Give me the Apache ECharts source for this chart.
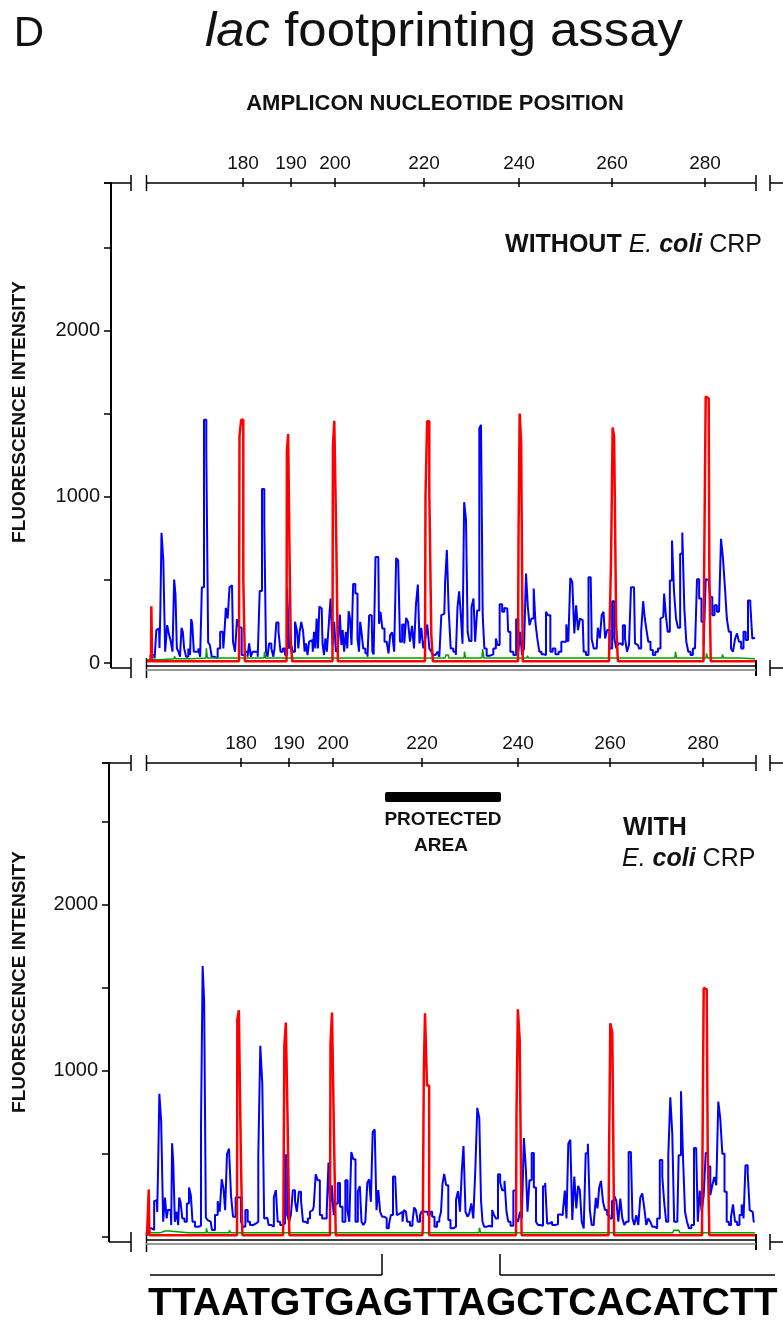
<!DOCTYPE html>
<html>
<head>
<meta charset="UTF-8">
<title>lac footprinting assay</title>
<style>
  html, body { margin: 0; padding: 0; background: #fff; }
  #chart { width: 783px; height: 1324px; }
</style>
<script src="https://cdn.jsdelivr.net/npm/echarts@6/dist/echarts.min.js"></script>
</head>
<body>
<div id="chart"></div>
<script>
// nucleotide labels of the top axes and where they sit on the scan axis (0..608)
var ntLabels = [180, 190, 200, 220, 240, 260, 280];
var topTickScan = [96, 144, 188, 277, 372, 465, 558];
var botTickScan = [94, 142, 186, 275, 371, 463, 556];

// WITHOUT E. coli CRP: [scan, fluorescence]
var topBlue = [[0,15],[7,48],[8.3,28],[10.3,198],[12,208],[13,90],[13.7,316],[15.3,784],[17.3,618],[19,68],[21.3,228],[23,168],[24.7,128],[26.3,68],[28,502],[29,412],[30.7,88],[32.3,68],[33.7,38],[35.3,212],[36.3,188],[38,88],[40.3,38],[42.3,88],[43.7,48],[44.7,264],[45.7,238],[48,68],[50.3,68],[52.3,88],[54,38],[55.7,456],[58.3,1464],[60.3,1272],[62,124],[63.7,108],[65.7,38],[69,28],[72.3,88],[74,188],[75.7,188],[77,88],[78,188],[79.7,332],[81.7,268],[83.3,456],[85,468],[87,128],[89,68],[91,264],[93,214],[96.3,48],[99.7,68],[101.3,38],[103,118],[104.7,38],[106.3,68],[109.7,68],[111.7,38],[113.7,434],[116.3,1048],[118.3,842],[119.7,68],[121.3,38],[123,118],[125.7,88],[127,38],[128,88],[130.7,244],[132.3,188],[134.7,68],[137,88],[139,48],[141.3,448],[143,88],[144.7,118],[147,68],[149,248],[150.7,198],[152,88],[153.3,188],[155.3,248],[157,188],[158.3,68],[159.7,118],[161.3,48],[163,128],[165.3,138],[166.3,68],[167.7,188],[169,88],[170.3,268],[171.7,88],[173,340],[174.7,328],[176.3,118],[177.7,48],[179,148],[180.7,68],[182.3,208],[184.7,388],[186.3,108],[188,248],[189.7,68],[192,88],[193.7,292],[195,108],[196.3,198],[198,68],[199.7,188],[201,88],[202.3,312],[203.7,268],[205.3,108],[207,476],[209.7,418],[211.3,148],[212.7,68],[213.7,248],[215.3,188],[217,88],[219.7,58],[221.3,38],[223,288],[224.7,288],[226,68],[227.3,52],[229.7,638],[231.3,638],[232.7,236],[234.3,308],[236.3,208],[238.7,128],[240.7,118],[242.3,58],[244,168],[246.3,184],[248,68],[250.3,632],[252,618],[254,128],[256.3,232],[258.3,118],[260,272],[262,248],[264,128],[266,224],[268,88],[270,356],[271.7,472],[273.3,118],[275.3,212],[277.3,88],[279.3,148],[281.3,232],[283.3,88],[285.3,68],[287.3,48],[289.7,38],[291.3,68],[293.3,38],[295.3,288],[297.3,296],[299,492],[300.7,680],[302.7,316],[304.7,88],[308,68],[309.7,48],[311.3,336],[313,432],[314.7,288],[316.3,116],[318,968],[320,864],[321.3,188],[323.3,132],[325.7,338],[327.3,388],[329,128],[331.3,316],[333.3,1412],[334.7,1434],[336.7,288],[338,88],[341.3,44],[344.7,52],[348,88],[349.7,148],[351.3,108],[354,354],[356.3,308],[358.3,332],[360.3,328],[362,188],[364.7,68],[368,48],[370.3,264],[372.3,68],[374,188],[376,48],[378,88],[380,538],[381.7,338],[383.3,228],[385.7,268],[387.7,448],[389.3,238],[391.3,148],[393.3,68],[395.7,52],[398,48],[400,308],[402,288],[404.7,68],[406.5,88],[410.3,52],[413,68],[415.7,128],[418.3,128],[420.3,232],[422.3,128],[424.3,512],[426.3,488],[428.3,178],[430,348],[432,198],[434,268],[435.7,258],[437.7,68],[440.3,48],[442.7,516],[443.7,516],[445.7,144],[447.7,88],[449.7,88],[452,212],[453.7,148],[455.7,288],[457.3,308],[459,148],[461.3,198],[464,88],[466.3,372],[468.3,148],[470.3,88],[472.3,118],[474.7,108],[477,228],[479,148],[481,68],[483,108],[485,456],[487,456],[489,118],[491,108],[493,88],[495.3,192],[497,372],[498.7,268],[500.3,198],[502.3,128],[504.7,78],[507,48],[509.7,68],[512.3,88],[514.7,268],[516.3,278],[518,418],[519.7,288],[521.7,188],[524,496],[526,738],[528,432],[530,268],[532,212],[534.3,658],[536.3,786],[538.3,332],[540.3,128],[542.3,68],[544.7,48],[547,88],[549,98],[551,504],[553.3,388],[555.7,248],[557.7,108],[559.7,504],[561.7,500],[564.3,398],[566.3,288],[568.7,348],[571,308],[573,316],[575,748],[577,628],[579,448],[580.7,268],[583,188],[585,88],[587,68],[589,144],[591,178],[593,128],[595.3,88],[597.7,188],[599.7,138],[602.3,376],[604.3,356],[606.3,148],[608,152]];
var topRed = [[0,10],[4,10],[4.7,342],[5.5,10],[92,10],[93,1364],[95.3,1464],[97.3,502],[98.5,10],[139.5,10],[140.3,1272],[142,1378],[143,662],[144.7,108],[146,10],[185.5,10],[186.3,1302],[188.3,1458],[190.3,722],[191.5,10],[278,10],[279,1002],[281.3,1456],[283.3,1028],[285.3,168],[286.5,10],[371,10],[372,748],[373.3,1502],[375,1324],[376.5,10],[462,10],[463,200],[465,598],[466.3,1418],[468,1358],[470.3,232],[471.5,10],[556.5,10],[557.7,518],[559.7,1604],[561.7,1594],[563,538],[564.5,10],[608,10]];
var topGreen = [[0,20],[27,25],[28,40],[29,25],[59,30],[59.7,88],[61,30],[117,30],[118,68],[119,30],[298,30],[300,48],[303,30],[317,30],[318,68],[319,30],[335,30],[336.3,84],[337.5,30],[380,30],[381,44],[382,30],[445,30],[446,38],[447,30],[528,30],[529,68],[530,30],[559,30],[560,58],[561,30],[575,30],[576,52],[577,30],[608,25]];

// WITH E. coli CRP
var botBlue = [[0,15],[4.7,52],[6.3,42],[8,216],[9.7,222],[10.7,150],[11.7,448],[13,862],[15.3,698],[17,92],[19,238],[20.3,112],[21.3,162],[23.7,162],[24.7,72],[25.5,564],[27,452],[28.7,92],[30.7,152],[31.7,72],[32.7,238],[34.3,212],[36.3,112],[38.7,92],[41,202],[43,298],[44.7,252],[46.3,92],[49.7,62],[53,68],[55,668],[56.3,1632],[58,1416],[59.7,116],[61.7,102],[63.7,92],[66.3,42],[69.7,132],[71.7,216],[73.7,152],[75.7,348],[77.3,292],[79,162],[81,500],[83,532],[85,252],[87,122],[90.3,238],[93,238],[95,92],[97,62],[99.7,162],[101.7,92],[104.3,72],[108,82],[110.3,92],[112.3,492],[114.3,1152],[116.3,922],[118,112],[120.3,116],[123,72],[125.7,62],[128,238],[129.7,282],[131.7,92],[134.7,72],[137,82],[139,492],[141.3,132],[143,92],[144.7,132],[147,282],[149,216],[150.7,152],[153,272],[155,222],[157,92],[159.7,82],[162,112],[164,152],[165.7,162],[167.7,182],[169.7,378],[171.7,342],[174,132],[176.3,112],[178.7,112],[180.7,152],[182.3,448],[184,172],[185.7,312],[187.7,132],[189.7,202],[192,326],[194,182],[197,92],[199.7,342],[201.3,162],[203.3,92],[205.3,512],[207.3,468],[209.7,92],[212,276],[213.7,306],[215.3,92],[217.3,72],[219.3,92],[221.3,326],[223,348],[224.7,212],[226.7,632],[228.7,648],[230.3,162],[232.3,282],[234,152],[236.3,122],[238.7,112],[240.7,52],[243,72],[244.7,132],[247.3,364],[249,356],[250.7,132],[253,142],[254.7,152],[256.3,92],[257.3,162],[259,152],[261.3,92],[264.7,68],[266.3,92],[268,178],[269.7,162],[272,92],[274,132],[275.7,156],[278,152],[279.7,152],[282,132],[284,152],[286.3,122],[288.7,62],[291.3,92],[293.3,112],[294.7,152],[296.3,320],[298,380],[300.3,312],[302.3,102],[304.7,52],[308,62],[310,224],[312,276],[314,152],[315.7,402],[317.3,548],[319.7,152],[321.3,122],[323.3,142],[325.3,202],[327.3,112],[329.3,402],[331.3,778],[333.3,716],[334.7,222],[336.3,92],[338,62],[341.3,68],[344,62],[346.3,162],[348,132],[349.7,112],[352.3,378],[354,328],[356.3,282],[358.7,338],[360.3,152],[362.3,92],[364.7,68],[368,280],[370,112],[372,92],[374,152],[375.7,112],[378,596],[379.7,412],[381.3,152],[383.7,342],[385.7,506],[388,298],[390,92],[392,72],[394.7,68],[397.3,306],[399,326],[401.3,82],[404,92],[406.3,72],[409.7,76],[412.3,136],[414.7,132],[417,152],[418.7,280],[420.3,112],[422.3,562],[424.3,586],[426.3,102],[428.3,364],[430.3,172],[432,308],[433.7,282],[435.7,92],[437.7,52],[439.7,504],[442,562],[443.7,162],[445.7,72],[448,92],[449.7,236],[451.3,172],[453,296],[455,338],[457,212],[459,162],[461.3,132],[463.7,112],[466.3,218],[468.3,248],[470.3,218],[472.3,92],[474.3,232],[476.3,112],[478.3,72],[480.3,92],[483,512],[484.7,508],[486.3,112],[488.3,72],[490.3,132],[492.3,72],[494.3,238],[496.3,262],[498.3,172],[500.3,72],[502.3,112],[504.3,92],[506.3,62],[509,52],[511.3,112],[514.3,464],[516.3,364],[518,212],[520.3,92],[522.3,492],[524.3,842],[526.3,618],[528,92],[530.3,92],[533,492],[535,878],[537,482],[539,152],[541,92],[543,52],[545.7,72],[548.3,536],[550,532],[551.7,92],[553.7,280],[555.7,152],[557.7,252],[559.7,506],[562.3,424],[564.3,252],[566.3,312],[568.3,362],[570.3,312],[572.3,816],[574.3,712],[576.3,502],[578.7,272],[580.7,92],[583,72],[585,122],[587,196],[589,92],[591.3,72],[593.7,132],[595.7,196],[597.3,112],[599.7,432],[601.7,388],[603.7,162],[605.7,152],[607.7,92]];
var botRed = [[0,10],[1.5,10],[2,286],[2.7,10],[90,10],[90.7,1312],[93,1366],[94.7,492],[96,10],[136,10],[136.7,92],[138,1152],[139.7,1292],[141.7,656],[143,10],[183,10],[184,1162],[186,1352],[188,596],[189.5,10],[275.3,10],[276.3,52],[277.3,988],[278.7,1348],[281.3,912],[283,10],[369,10],[370,736],[371.7,1372],[373.7,1188],[375.5,10],[461.5,10],[462.3,386],[464.3,1288],[466.3,1232],[468,10],[555,10],[555.7,386],[557.7,1500],[559.7,1492],[561.7,532],[563,10],[608,10]];
var botGreen = [[0,25],[13,25],[14,36],[22,36],[23,25],[59,25],[60,52],[61,25],[82,25],[83,42],[84,25],[332,25],[333,56],[334,25],[526,25],[527,40],[532,40],[533,25],[608,25]];

var chart = echarts.init(document.getElementById('chart'));
var FONT = 'Liberation Sans, Arial, sans-serif';

function traceAxes(grid, ticks) {
    // bottom double line, top nucleotide axis (ticks both sides)
    return [
        {gridIndex: grid, type: 'value', min: 0, max: 608, position: 'bottom', offset: 3,
         axisLine: {onZero: false, lineStyle: {color: '#000', width: 1.5}}, axisTick: {show: false},
         axisLabel: {show: false}, splitLine: {show: false}},
        {gridIndex: grid, type: 'value', min: 0, max: 608, position: 'bottom', offset: 7,
         axisLine: {onZero: false, lineStyle: {color: '#999', width: 2}}, axisTick: {show: false},
         axisLabel: {show: false}, splitLine: {show: false}},
        {gridIndex: grid, type: 'value', min: 0, max: 608, position: 'top',
         axisLine: {onZero: false, lineStyle: {color: '#000', width: 1.5}},
         axisTick: {customValues: ticks, length: 5, lineStyle: {color: '#000', width: 1.5}},
         axisLabel: {customValues: ticks, margin: 10, fontSize: 19, color: '#111', fontFamily: FONT,
                     formatter: function (v) { return ntLabels[ticks.indexOf(v)]; }},
         splitLine: {show: false}},
        {gridIndex: grid, type: 'value', min: 0, max: 608, position: 'top',
         axisLine: {show: false, onZero: false},
         axisTick: {customValues: ticks, inside: true, length: 4, lineStyle: {color: '#000', width: 1.5}},
         axisLabel: {show: false}, splitLine: {show: false}}
    ];
}

function yAx(grid, max, offset, showZero) {
    return {gridIndex: grid, type: 'value', min: 0, max: max, interval: 500, offset: offset,
        axisLine: {show: true, onZero: false, lineStyle: {color: '#000', width: 2}},
        axisTick: {show: true, length: 7, lineStyle: {color: '#000', width: 1.5}},
        axisLabel: {margin: 11, fontSize: 20, color: '#111', fontFamily: FONT,
            formatter: function (v) {
                if (v === 0) return showZero ? '0' : '';
                return v % 1000 === 0 ? String(v) : '';
            }},
        splitLine: {show: false}};
}

function trace(data, color, width, xi, yi, z) {
    return {type: 'line', data: data, xAxisIndex: xi, yAxisIndex: yi, step: 'middle',
        showSymbol: false, symbol: 'none', z: z, silent: true,
        lineStyle: {color: color, width: width}};
}

function seg(x1, y1, x2, y2, w, c) {
    return {type: 'line', shape: {x1: x1, y1: y1, x2: x2, y2: y2},
        style: {stroke: c || '#000', lineWidth: w || 1.5}};
}

function txt(x, y, text, size, weight, align, extra) {
    var s = {text: text, x: x, y: y, fill: '#111', textAlign: align || 'center',
        textVerticalAlign: 'middle', font: (weight || 'normal') + ' ' + size + 'px ' + FONT};
    if (extra) for (var k in extra) s[k] = extra[k];
    return {type: 'text', style: s};
}

// axis breaks and stubs beside each panel
function panelDeco(yTop, yBot, yAxisX) {
    return [
        seg(yAxisX - 7, yTop, 131, yTop), seg(131, yTop - 8, 131, yTop + 8),
        seg(146.5, yTop - 8, 146.5, yTop + 8), seg(756, yTop - 8, 756, yTop + 8),
        seg(770, yTop - 8, 770, yTop + 8), seg(770, yTop, 783, yTop),
        seg(yAxisX, yBot, yAxisX, yBot + 5, 2), seg(yAxisX, yBot + 5, 131, yBot + 5),
        seg(131, yBot - 5, 131, yBot + 15), seg(146.5, yBot - 5, 146.5, yBot + 15),
        seg(756, yBot - 3, 756, yBot + 13, 2), seg(770, yBot - 3, 770, yBot + 13),
        seg(770, yBot + 5, 783, yBot + 5)
    ];
}

var graphics = [
    txt(29, 34, 'D', 42, 'normal', 'center'),
    {type: 'text', x: 444, y: 33, scaleX: 1.06,
     style: {text: '{i|lac} footprinting assay', x: 0, y: 0, textAlign: 'center', textVerticalAlign: 'middle',
             fill: '#111', font: '48px ' + FONT,
             rich: {i: {fontStyle: 'italic', fontSize: 48, fontFamily: FONT}}}},
    txt(435, 104, 'AMPLICON NUCLEOTIDE POSITION', 22, 'bold', 'center'),
    txt(762, 245, '{b|WITHOUT }{i|E.}{bi| coli} CRP', 25, 'normal', 'right',
        {rich: {b: {fontWeight: 'bold', fontSize: 25, fontFamily: FONT},
                i: {fontStyle: 'italic', fontSize: 25, fontFamily: FONT},
                bi: {fontStyle: 'italic', fontWeight: 'bold', fontSize: 25, fontFamily: FONT}}}),
    txt(623, 828, 'WITH', 25, 'bold', 'left'),
    txt(622, 859, '{i|E.}{bi| coli} CRP', 25, 'normal', 'left',
        {rich: {i: {fontStyle: 'italic', fontSize: 25, fontFamily: FONT},
                bi: {fontStyle: 'italic', fontWeight: 'bold', fontSize: 25, fontFamily: FONT}}}),
    {type: 'rect', shape: {x: 385, y: 792, width: 116, height: 10, r: 2}, style: {fill: '#000'}},
    txt(443, 820, 'PROTECTED', 19, 'bold', 'center'),
    txt(441, 846, 'AREA', 19, 'bold', 'center'),
    {type: 'text', x: 20, y: 412, rotation: Math.PI / 2,
     style: {text: 'FLUORESCENCE INTENSITY', x: 0, y: 0, textAlign: 'center', textVerticalAlign: 'middle',
             fill: '#111', font: 'bold 19px ' + FONT}},
    {type: 'text', x: 20, y: 982, rotation: Math.PI / 2,
     style: {text: 'FLUORESCENCE INTENSITY', x: 0, y: 0, textAlign: 'center', textVerticalAlign: 'middle',
             fill: '#111', font: 'bold 19px ' + FONT}},
    seg(150, 1275, 382, 1275), seg(382, 1254, 382, 1275),
    seg(500, 1254, 500, 1275), seg(500, 1275, 775, 1275),
    txt(148, 1304, 'TTAATGTGAGTTAGCTCACATCTT', 39, 'bold', 'left', {fill: '#000'})
].concat(panelDeco(183, 663, 111), panelDeco(763, 1237, 109));

chart.setOption({
    backgroundColor: '#fff',
    animation: false,
    grid: [
        {left: 147, top: 183, width: 608, height: 480, outerBoundsMode: 'none'},
        {left: 147, top: 763, width: 608, height: 474, outerBoundsMode: 'none'}
    ],
    xAxis: traceAxes(0, topTickScan).concat(traceAxes(1, botTickScan)),
    yAxis: [yAx(0, 2890, 36, true), yAx(1, 2855, 38, false)],
    series: [
        trace(topBlue, '#0000ff', 2, 0, 0, 2),
        trace(topGreen, '#00a000', 1.5, 0, 0, 3),
        trace(topRed, '#ff0000', 2.5, 0, 0, 4),
        trace(botBlue, '#0000ff', 2, 4, 1, 2),
        trace(botGreen, '#00a000', 1.5, 4, 1, 3),
        trace(botRed, '#ff0000', 2.5, 4, 1, 4)
    ],
    graphic: graphics
});
</script>
</body>
</html>
